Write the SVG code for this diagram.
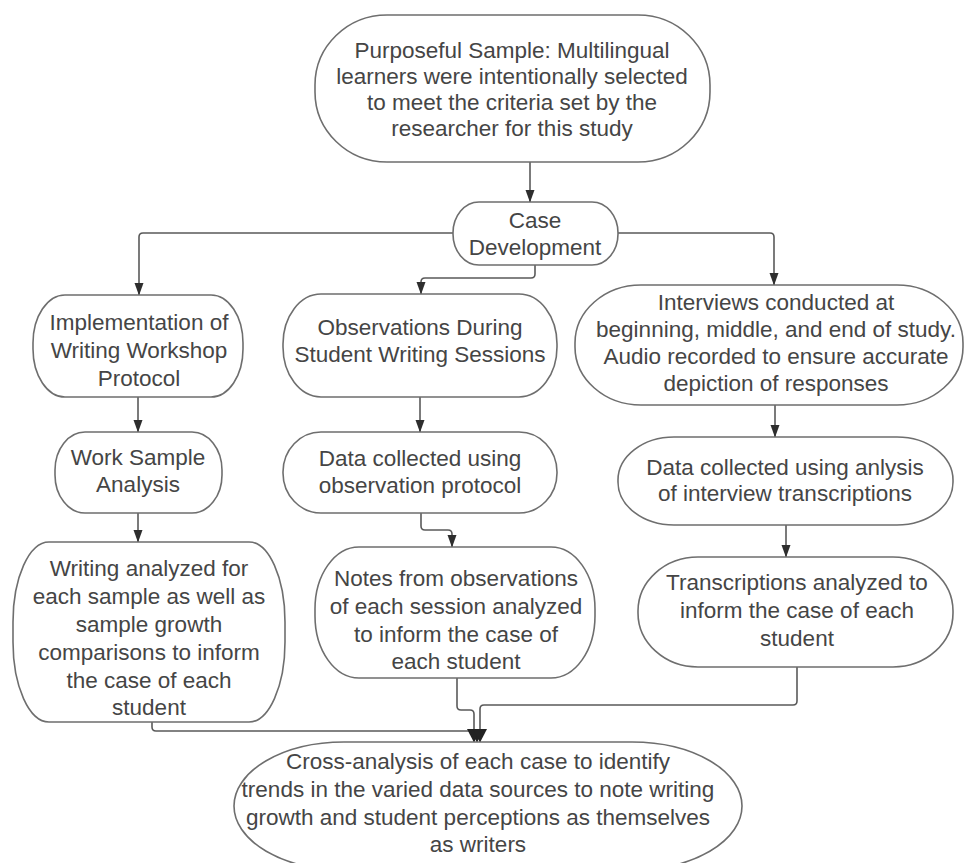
<svg xmlns="http://www.w3.org/2000/svg" width="964" height="863" viewBox="0 0 964 863">
<defs>
<style>
.n{fill:#fff;stroke:#6e6e6e;stroke-width:1.6}
.t{font-family:"Liberation Sans",Arial,sans-serif;font-size:22.5px;fill:#454545;text-anchor:middle}
.c{fill:none;stroke:#5a5a5a;stroke-width:1.6;stroke-linejoin:round}
</style>
<marker id="a" markerWidth="13" markerHeight="10" refX="12" refY="5" orient="auto" markerUnits="userSpaceOnUse" viewBox="0 0 13 10">
<path d="M0 0.5 L12.5 5 L0 9.5 Z" fill="#2e2e2e"/>
</marker>
<marker id="ab" markerWidth="14" markerHeight="16" refX="13" refY="8" orient="auto" markerUnits="userSpaceOnUse" viewBox="0 0 14 16">
<path d="M0 1 L13.5 8 L0 15 Z" fill="#222"/>
</marker>
</defs>
<rect width="964" height="863" fill="#fff"/>
<g id="connectors">
<path class="c" d="M530 162 V202" marker-end="url(#a)"/>
<path class="c" d="M453 233 H143 Q139 233 139 237 V295" marker-end="url(#a)"/>
<path class="c" d="M535 265 V274 Q535 278 531 278 H425 Q421 278 421 282 V294" marker-end="url(#a)"/>
<path class="c" d="M618 233 H770 Q774 233 774 237 V285" marker-end="url(#a)"/>
<path class="c" d="M138 397 V432" marker-end="url(#a)"/>
<path class="c" d="M138 513 V542" marker-end="url(#a)"/>
<path class="c" d="M420 397 V432" marker-end="url(#a)"/>
<path class="c" d="M421 513 V526 Q421 530 425 530 H448 Q452 530 452 534 V547" marker-end="url(#a)"/>
<path class="c" d="M775 405 V437" marker-end="url(#a)"/>
<path class="c" d="M786 525 V557" marker-end="url(#a)"/>
<path class="c" d="M152 722 V727 Q152 731 156 731 H477 V742" marker-end="url(#ab)"/>
<path class="c" d="M457 678 V706 Q457 710 461 710 H470 Q474 710 474 714 V742" marker-end="url(#ab)"/>
<path class="c" d="M797 667 V701 Q797 705 793 705 H484 Q480 705 480 709 V742" marker-end="url(#ab)"/>
</g>
<g id="n-purposeful">
<rect class="n" x="315" y="15" width="395" height="147" rx="72" ry="70"/>
<text class="t" x="512" y="58">Purposeful Sample: Multilingual</text>
<text class="t" x="512" y="84">learners were intentionally selected</text>
<text class="t" x="512" y="110">to meet the criteria set by the</text>
<text class="t" x="512" y="136">researcher for this study</text>
</g>
<g id="n-case">
<rect class="n" x="453" y="202" width="165" height="63" rx="26" ry="31"/>
<text class="t" x="535" y="228">Case</text>
<text class="t" x="535" y="255">Development</text>
</g>
<g id="n-implementation">
<rect class="n" x="33" y="295" width="210" height="102" rx="32" ry="48"/>
<text class="t" x="139" y="330">Implementation of</text>
<text class="t" x="139" y="358">Writing Workshop</text>
<text class="t" x="139" y="386">Protocol</text>
</g>
<g id="n-worksample">
<rect class="n" x="55" y="432" width="167" height="81" rx="30" ry="38"/>
<text class="t" x="138" y="465">Work Sample</text>
<text class="t" x="138" y="492">Analysis</text>
</g>
<g id="n-writing">
<rect class="n" x="13" y="542" width="272" height="180" rx="36" ry="80"/>
<text class="t" x="149" y="576">Writing analyzed for</text>
<text class="t" x="149" y="604">each sample as well as</text>
<text class="t" x="149" y="632">sample growth</text>
<text class="t" x="149" y="660">comparisons to inform</text>
<text class="t" x="149" y="688">the case of each</text>
<text class="t" x="149" y="715">student</text>
</g>
<g id="n-observations">
<rect class="n" x="283" y="294" width="274" height="103" rx="38" ry="50"/>
<text class="t" x="420" y="335">Observations During</text>
<text class="t" x="420" y="362">Student Writing Sessions</text>
</g>
<g id="n-datacollected">
<rect class="n" x="283" y="432" width="274" height="81" rx="38" ry="40"/>
<text class="t" x="420" y="466">Data collected using</text>
<text class="t" x="420" y="493">observation protocol</text>
</g>
<g id="n-notes">
<rect class="n" x="315" y="547" width="280" height="131" rx="44" ry="62"/>
<text class="t" x="456" y="586">Notes from observations</text>
<text class="t" x="456" y="614">of each session analyzed</text>
<text class="t" x="456" y="642">to inform the case of</text>
<text class="t" x="456" y="669">each student</text>
</g>
<g id="n-interviews">
<rect class="n" x="575" y="285" width="388" height="120" rx="66" ry="58"/>
<text class="t" x="776" y="310">Interviews conducted at</text>
<text class="t" x="776" y="337">beginning, middle, and end of study.</text>
<text class="t" x="776" y="364">Audio recorded to ensure accurate</text>
<text class="t" x="776" y="391">depiction of responses</text>
</g>
<g id="n-anlysis">
<rect class="n" x="618" y="437" width="335" height="88" rx="56" ry="43"/>
<text class="t" x="785" y="475">Data collected using anlysis</text>
<text class="t" x="785" y="501">of interview transcriptions</text>
</g>
<g id="n-transcriptions">
<rect class="n" x="638" y="557" width="315" height="110" rx="60" ry="54"/>
<text class="t" x="797" y="590">Transcriptions analyzed to</text>
<text class="t" x="797" y="618">inform the case of each</text>
<text class="t" x="797" y="646">student</text>
</g>
<g id="n-crossanalysis">
<rect class="n" x="234" y="742" width="508" height="128" rx="110" ry="64"/>
<text class="t" x="478" y="769">Cross-analysis of each case to identify</text>
<text class="t" x="478" y="797">trends in the varied data sources to note writing</text>
<text class="t" x="478" y="825">growth and student perceptions as themselves</text>
<text class="t" x="478" y="852">as writers</text>
</g>
</svg>
